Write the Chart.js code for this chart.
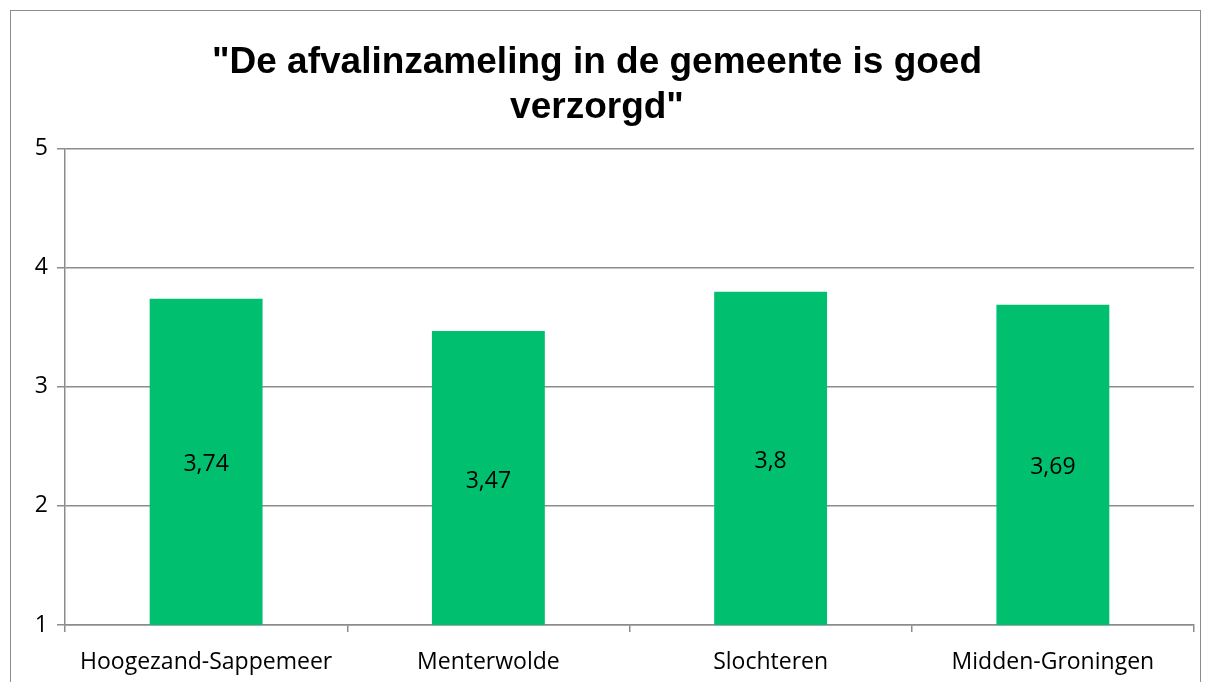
<!DOCTYPE html>
<html>
<head>
<meta charset="utf-8">
<script src="https://cdn.jsdelivr.net/npm/chart.js@4.4.1/dist/chart.umd.min.js"></script>
<style>
  html, body { margin: 0; padding: 0; background: #fff; }
  #wrap { position: relative; width: 1212px; height: 682px; overflow: hidden; }
  #frame { position: absolute; left: 10px; top: 10px; width: 1191px; height: 700px; border: 1.5px solid #8c8c8c; box-sizing: border-box; }
  canvas { position: absolute; left: 0; top: 0; }
</style>
</head>
<body>
<div id="wrap">
  <div id="frame"></div>
  <canvas id="chart" width="1212" height="682"></canvas>
</div>
<script>
// Chart data
const categories = ['Hoogezand-Sappemeer', 'Menterwolde', 'Slochteren', 'Midden-Groningen'];
const scores = [3.74, 3.47, 3.8, 3.69];
const titleLines = ['"De afvalinzameling in de gemeente is goed', 'verzorgd"'];

const barGreen = 'rgb(0, 192, 111)';
const axisGray = '#8c8c8c';
const labelFont = "'Open Sans', 'Noto Sans', sans-serif";

// Value label in the middle of the visible bar, Dutch decimal comma
const barValueLabels = {
  id: 'barValueLabels',
  afterDatasetsDraw: (chart) => {
    const ctx = chart.ctx;
    const meta = chart.getDatasetMeta(0);
    const bottom = chart.scales.y.bottom;
    ctx.save();
    ctx.font = '23px ' + labelFont;
    ctx.fillStyle = '#000';
    ctx.textAlign = 'center';
    ctx.textBaseline = 'middle';
    meta.data.forEach((bar, i) => {
      const y = (bar.y + Math.min(bar.base, bottom)) / 2 + 3;
      ctx.fillText(String(scores[i]).replace('.', ','), bar.x, y);
    });
    ctx.restore();
  }
};

const ctx = document.getElementById('chart');
new Chart(ctx, {
  type: 'bar',
  data: {
    labels: categories,
    datasets: [{
      data: scores,
      backgroundColor: barGreen,
      borderWidth: 0,
      barPercentage: 0.4,
      categoryPercentage: 1
    }]
  },
  options: {
    responsive: false,
    animation: false,
    layout: { padding: { top: 10, right: 18, left: 0, bottom: 0 } },
    plugins: {
      legend: { display: false },
      tooltip: { enabled: false },
      title: {
        display: true,
        text: titleLines,
        color: '#000',
        font: { family: "'Liberation Sans', Arial, sans-serif", size: 37, weight: 'bold', lineHeight: 1.2 },
        padding: { top: 31, bottom: 19 }
      }
    },
    scales: {
      x: {
        grid: { drawOnChartArea: false, drawTicks: true, tickLength: 7, color: axisGray, lineWidth: 1.5 },
        border: { color: axisGray, width: 1.5 },
        ticks: { color: '#000', font: { family: labelFont, size: 23 }, padding: 17, maxRotation: 0 },
        afterFit: (scale) => { scale.height = 57; }
      },
      y: {
        min: 1,
        max: 5,
        ticks: { stepSize: 1, color: '#000', font: { family: labelFont, size: 23 }, padding: 9 },
        grid: { color: axisGray, lineWidth: 1.5, tickLength: 8 },
        border: { color: axisGray, width: 1.5 },
        afterFit: (scale) => { scale.width = 65; }
      }
    }
  },
  plugins: [barValueLabels]
});
</script>
</body>
</html>
